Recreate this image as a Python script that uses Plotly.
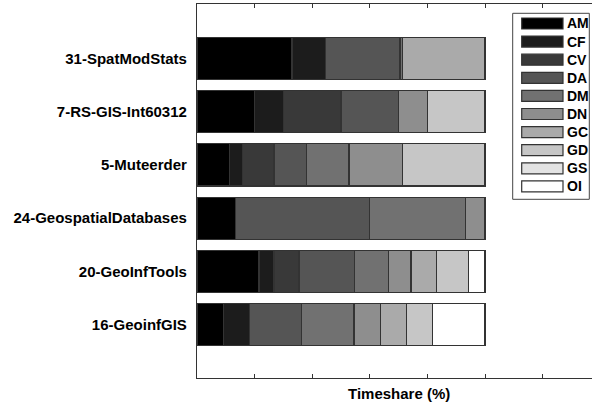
import plotly.graph_objects as go

# Courses, listed top to bottom
courses = [
    "31-SpatModStats",
    "7-RS-GIS-Int60312",
    "5-Muteerder",
    "24-GeospatialDatabases",
    "20-GeoInfTools",
    "16-GeoinfGIS",
]

# Activity categories and their grey fills
activities = ["AM", "CF", "CV", "DA", "DM", "DN", "GC", "GD", "GS", "OI"]
greys = ["#000000", "#1c1c1c", "#393939", "#555555", "#717171",
         "#8e8e8e", "#aaaaaa", "#c6c6c6", "#e3e3e3", "#ffffff"]

# Timeshare (%) per activity, one value per course (same order as courses)
AM = [33.0, 20.0, 11.2, 13.3, 21.5, 9.09]
CF = [11.5, 10.0, 4.5, 0.0, 5.2, 9.09]
CV = [0.0, 20.0, 11.0, 0.0, 8.7, 0.0]
DA = [26.0, 20.0, 11.3, 46.7, 19.4, 18.18]
DM = [0.8, 0.0, 14.8, 33.3, 11.6, 18.18]
DN = [0.0, 10.0, 18.5, 6.7, 7.9, 9.09]
GC = [28.7, 0.0, 0.0, 0.0, 8.9, 9.09]
GD = [0.0, 20.0, 28.7, 0.0, 11.0, 9.09]
GS = [0.0, 0.0, 0.0, 0.0, 0.0, 0.0]
OI = [0.0, 0.0, 0.0, 0.0, 5.8, 18.18]

series = [AM, CF, CV, DA, DM, DN, GC, GD, GS, OI]

x_ticks = [0, 20, 40, 60, 80, 100, 120, 140]

FONT = "Liberation Sans, Arial, Helvetica, sans-serif"

# course positions on the vertical axis (first course on top)
ypos = [len(courses) - i for i in range(len(courses))]

fig = go.Figure()
for name, vals, col in zip(activities, series, greys):
    fig.add_trace(go.Bar(
        name=name, y=ypos, x=vals, orientation="h",
        marker=dict(color=col, line=dict(color="#333333", width=1.2)),
        width=0.79, showlegend=False,
    ))

W, H = 592, 403
ML, MR, MT, MB = 197, 0, 4, 25
pw, ph = W - ML - MR, H - MT - MB


def px_x(p):
    return (p - ML) / pw


def px_y(p):
    return (H - MB - p) / ph


# legend box drawn in paper coordinates
shapes = [dict(type="rect", xref="paper", yref="paper",
               x0=px_x(512.7), x1=px_x(589.3), y0=px_y(199.3), y1=px_y(13.3),
               line=dict(color="#444444", width=1), fillcolor="white")]
annotations = []
for i, (name, col) in enumerate(zip(activities, greys)):
    cy = 23.5 + 18.1 * i
    shapes.append(dict(type="rect", xref="paper", yref="paper",
                       x0=px_x(521.7), x1=px_x(563), y0=px_y(cy + 5.5), y1=px_y(cy - 5.5),
                       line=dict(color="#333333", width=1.2), fillcolor=col))
    annotations.append(dict(xref="paper", yref="paper", x=px_x(564.5), y=px_y(cy),
                            text=name, showarrow=False, xanchor="left", yanchor="middle",
                            font=dict(family=FONT, size=14, color="black", weight="bold")))

# axis title
annotations.append(dict(xref="x", yref="paper", x=70, y=px_y(393),
                        text="Timeshare (%)", showarrow=False,
                        xanchor="center", yanchor="middle",
                        font=dict(family=FONT, size=15, color="black", weight="bold")))

fig.update_layout(
    barmode="stack",
    width=W, height=H,
    margin=dict(l=ML, r=MR, t=MT, b=MB, pad=0),
    plot_bgcolor="white", paper_bgcolor="white",
    shapes=shapes, annotations=annotations,
    font=dict(family=FONT, color="black"),
    xaxis=dict(range=[0, pw / 2.88], tickvals=x_ticks, showticklabels=False,
               ticks="inside", ticklen=4, tickcolor="#333333", tickwidth=1,
               showline=True, linecolor="#333333", linewidth=1.2, mirror="ticks",
               showgrid=False, zeroline=False, fixedrange=True),
    yaxis=dict(range=[0, 7.02], tickvals=ypos, ticktext=courses,
               ticks="outside", ticklen=6, tickcolor="rgba(0,0,0,0)",
               tickfont=dict(family=FONT, size=15, color="black", weight="bold"),
               showline=True, linecolor="#333333", linewidth=1.2, mirror=False,
               showgrid=False, zeroline=False, fixedrange=True),
)

fig.write_html("out.html")
